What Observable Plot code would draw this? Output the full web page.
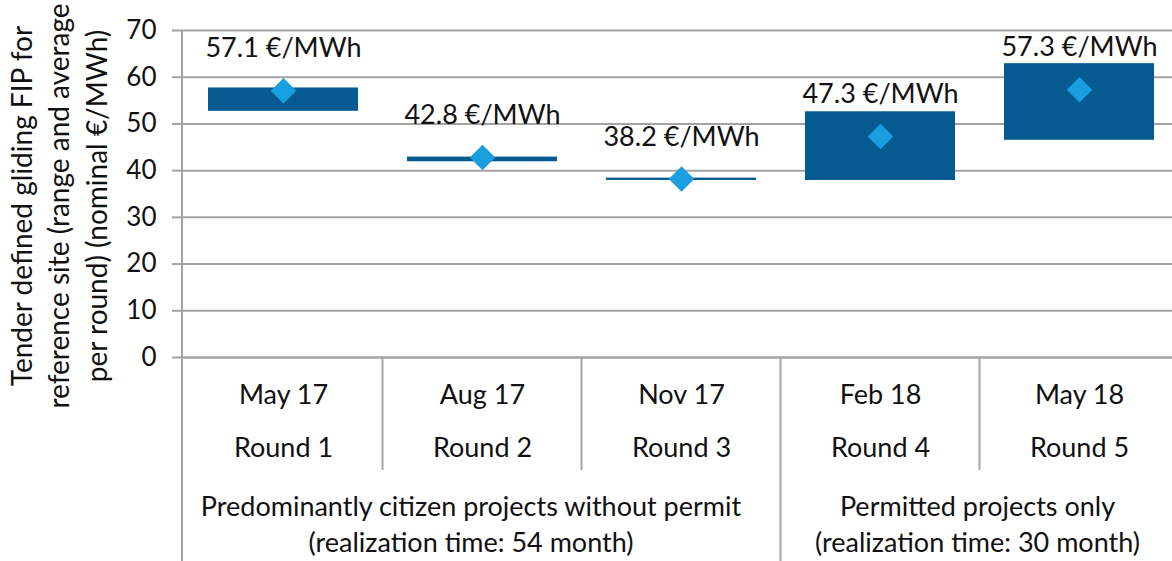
<!DOCTYPE html>
<html>
<head>
<meta charset="utf-8">
<script src="https://cdn.jsdelivr.net/npm/d3@7"></script>
<script src="https://cdn.jsdelivr.net/npm/@observablehq/plot@0.6"></script>
<style>
  html, body { margin: 0; padding: 0; background: #fff; overflow: hidden; }
  #chart svg { display: block; }
</style>
</head>
<body>
<div id="chart"></div>
<script>
// ---- data ----
const rounds = ["Round 1", "Round 2", "Round 3", "Round 4", "Round 5"];
const dates = ["May 17", "Aug 17", "Nov 17", "Feb 18", "May 18"];
const lows = [52.7, 41.9, 37.9, 37.9, 46.5];
const highs = [57.7, 42.9, 38.4, 52.6, 62.9];
const avgs = [57.1, 42.8, 38.2, 47.3, 57.3];
const avgLabels = ["57.1 €/MWh", "42.8 €/MWh", "38.2 €/MWh", "47.3 €/MWh", "57.3 €/MWh"];
const groupLabels = [
  ["Predominantly citizen projects without permit", "(realization time: 54 month)"],
  ["Permitted projects only", "(realization time: 30 month)"]
];
const groupFirst = ["Round 1", "Round 4"];
const groupLast = ["Round 3", "Round 5"];
const yTicks = [0, 10, 20, 30, 40, 50, 60, 70];
const yTitle = ["Tender defined gliding FIP for", "reference site (range and average", "per round) (nominal €/MWh)"];

const data = rounds.map((r, i) => ({round: r, date: dates[i], low: lows[i], high: highs[i], avg: avgs[i], label: avgLabels[i]}));

const gridColor = "#a3a3a3";
const barColor = "#065a92";
const diamondColor = "#199fe0";
const font = "Lato, 'Open Sans', sans-serif";
const fs = 27;

function decorations(index, scales, values, dimensions) {
  const x = scales.x, y = scales.y;
  const bw = x.bandwidth(), step = x.step();
  const H = dimensions.height, left = dimensions.marginLeft;
  const y0 = y(0);
  const g = d3.create("svg:g");
  const lines = g.append("g").attr("stroke", gridColor).attr("stroke-width", 2);
  // vertical axis line, down through the table
  lines.append("line").attr("x1", left).attr("x2", left).attr("y1", y(70)).attr("y2", H);
  // category separators
  rounds.forEach((r, i) => {
    if (i === 0) return;
    const bx = x(r) + bw / 2 - step / 2;
    const full = groupFirst.includes(r);
    lines.append("line").attr("x1", bx).attr("x2", bx).attr("y1", y0).attr("y2", full ? H : y0 + 113);
  });
  // group labels (centred on the visible part of each group's span)
  const tg = g.append("g").attr("font-family", font).attr("font-size", fs).attr("fill", "#111").attr("text-anchor", "middle");
  groupLabels.forEach((lbl, k) => {
    const a = x(groupFirst[k]) + bw / 2 - step / 2;
    const b = x(groupLast[k]) + bw / 2 + step / 2;
    const cx = (a + b) / 2 + (k === 0 ? -11 : -2);
    lbl.forEach((t, j) => {
      tg.append("text").attr("x", cx).attr("y", y0 + 150 + j * 35.5).attr("dy", "0.35em").text(t);
    });
  });
  // y axis title
  const yt = g.append("text").attr("font-family", font).attr("font-size", 28).attr("fill", "#111")
    .attr("text-anchor", "middle").attr("transform", `translate(59.5,206) rotate(-90)`);
  yTitle.forEach((t, j) => {
    yt.append("tspan").attr("x", 0).attr("y", (j - 1) * 37.5).attr("dy", "0.35em").text(t);
  });
  return g.node();
}

const chart = Plot.plot({
  width: 1172,
  height: 561,
  marginTop: 30,
  marginBottom: 204,
  marginLeft: 182,
  marginRight: 0,
  style: {fontFamily: font, fontSize: fs + "px", color: "#111", background: "#fff"},
  x: {domain: rounds, range: [182, 1180], paddingInner: 0.245, paddingOuter: 0.1225, axis: null},
  y: {domain: [0, 70], axis: null},
  marks: [
    Plot.gridY(yTicks, {stroke: gridColor, strokeOpacity: 1, strokeWidth: 2}),
    Plot.axisY(yTicks, {tickSize: 10, tickPadding: 16, stroke: gridColor, strokeOpacity: 1, strokeWidth: 2, fontSize: 26, label: null, fill: "#111"}),
    Plot.ruleY([0], {stroke: gridColor, strokeWidth: 2}),
    Plot.barY(data, {x: "round", y1: "low", y2: "high", fill: barColor}),
    Plot.dot(data, {x: "round", y: "avg", symbol: "diamond2", r: 11.5, fill: diamondColor, stroke: null}),
    Plot.text(data, {x: "round", y: "avg", text: "label", dy: -42, fontSize: fs, fill: "#111", lineAnchor: "middle"}),
    Plot.text(data, {x: "round", text: "date", frameAnchor: "bottom", lineAnchor: "middle", dy: 38, fontSize: fs, fill: "#111"}),
    Plot.text(data, {x: "round", text: "round", frameAnchor: "bottom", lineAnchor: "middle", dy: 91, fontSize: fs, fill: "#111"}),
    decorations
  ]
});
document.getElementById("chart").appendChild(chart);
</script>
</body>
</html>
